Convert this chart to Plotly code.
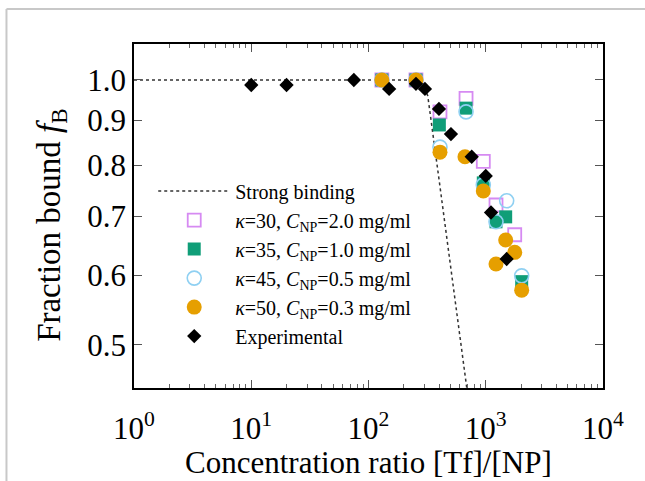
import plotly.graph_objects as go

# ---- data ----
strong_x = [1, 250, 290, 320, 400, 500, 690]
strong_y = [1.0, 1.0, 0.99, 0.96, 0.77, 0.616, 0.446]

k30_x = [130, 254, 407, 679, 953, 1223, 1766]
k30_y = [1.0, 1.0, 0.92, 0.953, 0.808, 0.721, 0.667]

k35_x = [130, 254, 402, 679, 953, 1223, 1479, 2025]
k35_y = [1.0, 1.0, 0.889, 0.929, 0.764, 0.690, 0.699, 0.590]

k45_x = [130, 254, 407, 679, 953, 1223, 1508, 2025]
k45_y = [1.0, 1.0, 0.839, 0.92, 0.76, 0.69, 0.729, 0.599]

k50_x = [130, 254, 407, 665, 953, 1479, 1766, 1223, 2025]
k50_y = [1.0, 1.0, 0.828, 0.818, 0.748, 0.658, 0.637, 0.618, 0.577]

exp_x = [10, 20, 75, 150, 254, 303, 399, 505, 759, 1000, 1109, 1508]
exp_y = [0.987, 0.987, 1.0, 0.977, 0.99, 0.977, 0.927, 0.868, 0.818, 0.778, 0.707, 0.626]

ytick_vals = [0.5, 0.6, 0.7, 0.8, 0.9, 1.0]
ytick_text = ["0.5", "0.6", "0.7", "0.8", "0.9", "1.0"]

xtick_vals = [1, 10, 100, 1000, 10000]
xtick_text = ["10<sup>0</sup>", "10<sup>1</sup>", "10<sup>2</sup>", "10<sup>3</sup>", "10<sup>4</sup>"]
xminor_vals = [m * d for d in (1, 10, 100, 1000) for m in range(2, 10)]

names = [
    "Strong binding",
    "<i>κ</i>=30, <i>C</i><sub>NP</sub>=2.0 mg/ml",
    "<i>κ</i>=35, <i>C</i><sub>NP</sub>=1.0 mg/ml",
    "<i>κ</i>=45, <i>C</i><sub>NP</sub>=0.5 mg/ml",
    "<i>κ</i>=50, <i>C</i><sub>NP</sub>=0.3 mg/ml",
    "Experimental",
]

FONT = "Liberation Serif, Times New Roman, serif"

fig = go.Figure()
fig.add_trace(go.Scatter(x=strong_x, y=strong_y, mode="lines", name=names[0],
                         line=dict(color="#333333", width=1.5, dash="dot")))
fig.add_trace(go.Scatter(x=k30_x, y=k30_y, mode="markers", name=names[1],
                         marker=dict(symbol="square-open", size=13, color="#d68af2",
                                     line=dict(width=1.8, color="#d68af2"))))
fig.add_trace(go.Scatter(x=k35_x, y=k35_y, mode="markers", name=names[2],
                         marker=dict(symbol="square", size=13, color="#109e78",
                                     line=dict(width=0))))
fig.add_trace(go.Scatter(x=k45_x, y=k45_y, mode="markers", name=names[3],
                         marker=dict(symbol="circle-open", size=14, color="#8fd0f2",
                                     line=dict(width=1.6, color="#8fd0f2"))))
fig.add_trace(go.Scatter(x=k50_x, y=k50_y, mode="markers", name=names[4],
                         marker=dict(symbol="circle", size=15, color="#e69f00",
                                     line=dict(width=0))))
fig.add_trace(go.Scatter(x=exp_x, y=exp_y, mode="markers", name=names[5],
                         marker=dict(symbol="diamond", size=11, color="black",
                                     line=dict(width=0))))

fig.update_layout(
    width=645, height=481, autosize=False,
    margin=dict(l=134, r=42, t=44, b=93, autoexpand=False),
    paper_bgcolor="white", plot_bgcolor="white",
    font=dict(family=FONT, color="black", size=20),
    showlegend=True,
    legend=dict(x=0.041, y=0.629, xanchor="left", yanchor="top",
                bgcolor="rgba(0,0,0,0)", borderwidth=0,
                font=dict(family=FONT, size=20, color="black"),
                itemwidth=72, tracegroupgap=0),
    shapes=[
        dict(type="line", xref="paper", yref="paper", x0=-0.2719, x1=-0.2719,
             y0=-0.3, y1=1.1017, line=dict(color="#c8c8c8", width=2)),
        dict(type="line", xref="paper", yref="paper", x0=-0.2719, x1=1.09,
             y0=1.1017, y1=1.1017, line=dict(color="#c8c8c8", width=2)),
    ],
    annotations=[
        dict(text="Fraction bound <i>f</i><sub>B</sub>", textangle=-90,
             xref="paper", yref="paper", x=-0.175, y=0.474,
             xanchor="center", yanchor="middle", showarrow=False,
             font=dict(family=FONT, size=33, color="black")),
        dict(text="Concentration ratio [Tf]/[NP]",
             xref="paper", yref="paper", x=0.5, y=-0.218,
             xanchor="center", yanchor="middle", showarrow=False,
             font=dict(family=FONT, size=31, color="black")),
    ],
)

fig.update_xaxes(
    type="log", range=[0, 4], tickmode="array", tickvals=xtick_vals, ticktext=xtick_text,
    showgrid=False, zeroline=False, automargin=False,
    showline=True, linecolor="black", linewidth=1.5, mirror="ticks",
    ticks="inside", ticklen=8, tickcolor="#555555", tickwidth=1,
    ticklabelstandoff=12,
    minor=dict(ticks="inside", ticklen=4, tickmode="array", tickvals=xminor_vals,
               tickcolor="#666666", showgrid=False),
    tickfont=dict(family=FONT, size=31, color="black"),
)
fig.update_yaxes(
    type="log", range=[-0.35, 0.0409],
    tickvals=ytick_vals, ticktext=ytick_text,
    showgrid=False, zeroline=False, automargin=False,
    showline=True, linecolor="black", linewidth=1.5, mirror="ticks",
    ticks="inside", ticklen=8, tickcolor="#555555", tickwidth=1,
    tickfont=dict(family=FONT, size=31, color="black"),
)

fig.write_html("out.html", config={"displayModeBar": False},
               post_script="document.body.style.margin='0';document.body.style.overflow='hidden';")
